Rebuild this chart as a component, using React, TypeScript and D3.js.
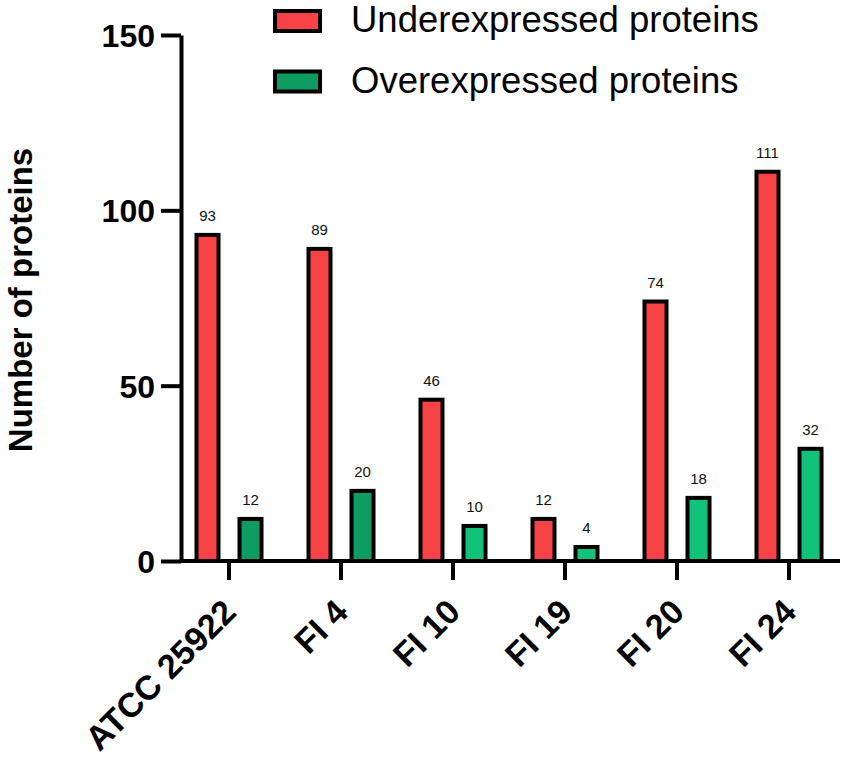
import { useEffect, useRef } from 'react';
import * as d3 from 'd3';

// Data
const categories = ['ATCC 25922', 'FI 4', 'FI 10', 'FI 19', 'FI 20', 'FI 24'];
const underexpressed = [93, 89, 46, 12, 74, 111];
const overexpressed = [12, 20, 10, 4, 18, 32];
const seriesNames = ['Underexpressed proteins', 'Overexpressed proteins'];
const yTicks = [0, 50, 100, 150];

// Styles
const RED = '#f94245';
const GREEN_DARK = '#0f9c62';
const GREEN_LIGHT = '#12c27a';
const overColors = [GREEN_DARK, GREEN_DARK, GREEN_LIGHT, GREEN_LIGHT, GREEN_LIGHT, GREEN_LIGHT];
const FONT = '"Liberation Sans", Arial, Helvetica, sans-serif';

export default function App() {
  const svgRef = useRef<SVGSVGElement>(null);

  useEffect(() => {
    if (!svgRef.current) return;
    document.body.style.margin = '0';

    const svg = d3.select(svgRef.current);
    svg.selectAll('*').remove();

    const width = 847;
    const height = 761;
    svg.attr('width', width).attr('height', height).style('font-family', FONT);

    // Scales
    const x = d3.scaleBand<string>().domain(categories).range([173, 845]).padding(0);
    const sub = d3.scalePoint<string>().domain(['under', 'over']).range([-21.5, 21.5]);
    const y = d3.scaleLinear().domain([0, 150]).range([561, 35]);
    const barW = 22;
    const center = (c: string) => (x(c) || 0) + x.bandwidth() / 2;

    // Bars
    const groups = [
      { key: 'under', values: underexpressed, color: (_: number) => RED },
      { key: 'over', values: overexpressed, color: (i: number) => overColors[i] },
    ];

    groups.forEach(g => {
      categories.forEach((c, i) => {
        const cx = center(c) + (sub(g.key) || 0);
        const v = g.values[i];
        svg.append('rect')
          .attr('x', cx - barW / 2)
          .attr('y', y(v))
          .attr('width', barW)
          .attr('height', y(0) - y(v))
          .attr('fill', g.color(i))
          .attr('stroke', '#000')
          .attr('stroke-width', 4);

        svg.append('text')
          .attr('x', cx)
          .attr('y', y(v) - 14)
          .attr('text-anchor', 'middle')
          .attr('font-size', '15px')
          .attr('fill', '#111')
          .text(v);
      });
    });

    // Y axis
    const yAxis = svg.append('g')
      .attr('transform', `translate(181,0)`)
      .call(d3.axisLeft(y).tickValues(yTicks).tickSize(20).tickSizeOuter(0).tickPadding(6).tickFormat(d => `${d}`));
    yAxis.select('.domain').attr('stroke', '#000').attr('stroke-width', 4);
    yAxis.selectAll('.tick line').attr('stroke', '#000').attr('stroke-width', 4);
    yAxis.selectAll('.tick text')
      .attr('font-size', '32px')
      .attr('font-weight', 'bold')
      .attr('font-family', FONT)
      .attr('fill', '#000')
      .attr('dy', '0.36em');

    // X axis
    const xAxis = svg.append('g')
      .attr('transform', `translate(0,561)`)
      .call(d3.axisBottom(x).tickSize(19).tickSizeOuter(0));
    xAxis.select('.domain').attr('stroke', '#000').attr('stroke-width', 4)
      .attr('d', 'M181,0H840');
    xAxis.selectAll('.tick line').attr('stroke', '#000').attr('stroke-width', 4);
    xAxis.selectAll('.tick text')
      .attr('font-size', '34px')
      .attr('font-weight', 'bold')
      .attr('font-family', FONT)
      .attr('fill', '#000')
      .attr('text-anchor', 'end')
      .attr('dy', '0')
      .attr('y', 0)
      .attr('transform', 'translate(9,53) rotate(-45)');

    // Y axis title
    svg.append('text')
      .attr('transform', 'translate(32,300) rotate(-90)')
      .attr('text-anchor', 'middle')
      .attr('font-size', '33px')
      .attr('font-weight', 'bold')
      .attr('fill', '#000')
      .text('Number of proteins');

    // Legend
    const legendColors = [RED, GREEN_DARK];
    seriesNames.forEach((name, i) => {
      const cy = 21 + i * 60.5;
      svg.append('rect')
        .attr('x', 275)
        .attr('y', cy - 10)
        .attr('width', 45)
        .attr('height', 20)
        .attr('fill', legendColors[i])
        .attr('stroke', '#000')
        .attr('stroke-width', 4);
      svg.append('text')
        .attr('x', 351)
        .attr('y', cy + 11)
        .attr('font-size', '36.5px')
        .attr('fill', '#000')
        .text(name);
    });
  }, []);

  return (
    <div style={{ position: 'absolute', left: 0, top: 0, background: '#fff' }}>
      <svg ref={svgRef} style={{ display: 'block' }} />
    </div>
  );
}
